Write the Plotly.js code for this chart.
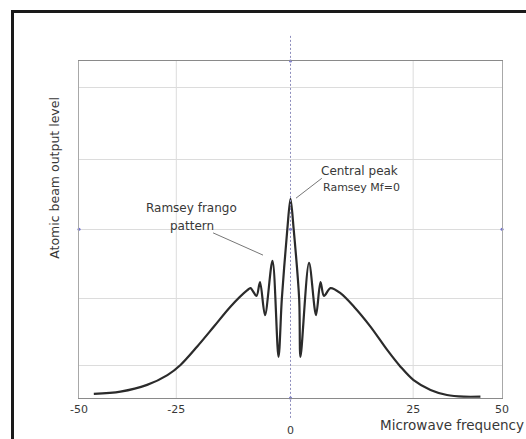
<!DOCTYPE html>
<html>
<head>
<meta charset="utf-8">
<script src="https://cdn.plot.ly/plotly-3.0.1.min.js"></script>
<style>
  html, body { margin: 0; padding: 0; background: #fff; width: 526px; height: 439px; overflow: hidden; }
  #chart { position: absolute; left: 0; top: 0; width: 526px; height: 439px; }
  #frame { position: absolute; left: 11px; top: 10px; width: 530px; height: 450px;
           border-left: 3px solid #1a1a1a; border-top: 3px solid #1a1a1a; pointer-events: none; }
</style>
</head>
<body>
<div id="chart"></div>
<div id="frame"></div>
<script>
// Microwave frequency (detuning) and atomic beam output level (arbitrary units, 0-100)
const frequency = [-46.5, -40.2, -33.9, -29.1, -26.0, -22.1, -18.1, -14.2, -10.2, -9.46,
  -8.04, -7.21, -6.03, -4.26, -2.84, -2.05, -0.75, 0, 0.75, 2.05, 2.36, 4.38, 6.03, 7.09, 7.92,
  9.46, 11.8, 15.0, 18.9, 22.9, 26.0, 29.1, 33.1, 37.0, 41.0, 44.9];
const outputLevel = [1.2, 1.9, 3.9, 6.8, 9.8, 15.2, 21.2, 27.1, 32.0, 32.6,
  30.3, 34.4, 24.6, 40.7, 12.2, 29.4, 50.1, 59.1, 50.1, 29.4, 12.2, 40.1, 24.6, 34.4, 30.3,
  32.6, 31.1, 27.1, 21.2, 14.2, 9.3, 5.3, 2.4, 0.9, 0.4, 0.4];

// axis ticks as drawn in the figure ("0" sits lower, drawn as its own label)
const xTickVals = [-50, -27, 0, 29, 50];
const xTickText = ['-50', '-25', '', '25', '50'];
const zeroLabel = '0';
const xGridVals = [-27, 29];
const yGridVals = [9.5, 29.4, 50.1, 70.9, 92.0];

// small blue markers where the centre line / middle gridline meet the frame
const dotX = [-50, 0, 50, 0, 0];
const dotY = [50.1, 50.1, 50.1, 100, 0];

const centreX = 0;

const curve = {
  x: frequency, y: outputLevel, type: 'scatter', mode: 'lines',
  line: { color: '#2b2b2b', width: 2.2, shape: 'spline', smoothing: 0.9 },
  hoverinfo: 'skip'
};
const dots = {
  x: dotX, y: dotY, type: 'scatter', mode: 'markers', cliponaxis: false,
  marker: { color: '#7070d0', size: 3 }, hoverinfo: 'skip'
};
const gridX = {
  x: xGridVals.flatMap(v => [v, v, null]),
  y: xGridVals.flatMap(() => [0, 100, null]),
  type: 'scatter', mode: 'lines', line: { color: '#dcdcdc', width: 1 }, hoverinfo: 'skip'
};

const fam = 'DejaVu Sans, Liberation Sans, sans-serif';
const tc = '#383838';
const lbl = (text, x, y, size, extra) => Object.assign({
  text: text, xref: 'paper', yref: 'paper', x: x, y: y, xanchor: 'center', yanchor: 'middle',
  showarrow: false, font: { size: size, color: tc, family: fam }
}, extra || {});

const layout = {
  width: 526, height: 439,
  margin: { l: 79, r: 24, t: 61, b: 41 },
  paper_bgcolor: 'rgba(0,0,0,0)', plot_bgcolor: '#fff',
  showlegend: false,
  font: { family: fam, color: tc },
  xaxis: {
    range: [-50, 50], tickvals: xTickVals, ticktext: xTickText,
    showgrid: false, zeroline: false, ticks: '',
    showline: true, linecolor: '#8a8a8a', linewidth: 1.3, mirror: true,
    tickfont: { size: 11, color: tc, family: fam }, fixedrange: true
  },
  yaxis: {
    range: [0, 100], tickvals: yGridVals, showticklabels: false,
    showgrid: true, gridcolor: '#dcdcdc', gridwidth: 1, zeroline: false, ticks: '',
    showline: true, linecolor: '#a8a8a8', linewidth: 1, mirror: true, fixedrange: true
  },
  shapes: [
    { type: 'line', xref: 'x', yref: 'paper', x0: centreX, x1: centreX, y0: -0.059, y1: 1.077,
      line: { color: '#8c8cbc', width: 1, dash: '2px,2px' } },
    { type: 'line', xref: 'paper', yref: 'paper', x0: 0.574, y0: 0.652, x1: 0.513, y1: 0.593,
      line: { color: '#777', width: 1 } },
    { type: 'line', xref: 'paper', yref: 'paper', x0: 0.317, y0: 0.490, x1: 0.435, y1: 0.424,
      line: { color: '#777', width: 1 } }
  ],
  annotations: [
    lbl('Atomic beam output level', -0.057, 0.653, 12.5, { textangle: -90 }),
    lbl('Microwave frequency', 1.019, -0.08, 13.5, { xanchor: 'right', xshift: 16 }),
    Object.assign(lbl(zeroLabel, 0, -0.095, 11), { xref: 'x' }),
    lbl('Central peak', 0.662, 0.674, 12),
    lbl('Ramsey Mf=0', 0.668, 0.626, 11),
    lbl('Ramsey frango', 0.267, 0.564, 12),
    lbl('pattern', 0.267, 0.510, 12)
  ]
};

Plotly.newPlot('chart', [gridX, curve, dots], layout, { displayModeBar: false, staticPlot: true });
</script>
</body>
</html>
